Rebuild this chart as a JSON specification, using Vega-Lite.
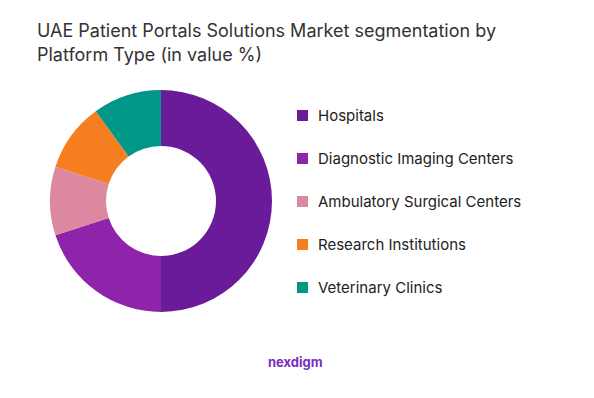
{
  "$schema": "https://vega.github.io/schema/vega-lite/v6.json",
  "background": "white",
  "padding": {"left": 37, "top": 23, "right": 0, "bottom": 0},
  "title": {
    "text": ["UAE Patient Portals Solutions Market segmentation by", "Platform Type (in value %)"],
    "anchor": "start",
    "font": "Inter",
    "fontSize": 18,
    "fontWeight": "normal",
    "color": "#333333",
    "lineHeight": 24,
    "offset": 25
  },
  "vconcat": [
    {
      "width": 248,
      "height": 222,
      "title": {
        "text": "nexdigm",
        "orient": "bottom",
        "anchor": "start",
        "dx": 231,
        "offset": 45,
        "font": "Inter",
        "fontSize": 13,
        "fontWeight": "bold",
        "color": "#7B2CBF"
      },
      "data": {
        "values": [
          {"segment": "Hospitals", "share": 50, "rank": 1},
          {"segment": "Diagnostic Imaging Centers", "share": 20, "rank": 2},
          {"segment": "Ambulatory Surgical Centers", "share": 10, "rank": 3},
          {"segment": "Research Institutions", "share": 10, "rank": 4},
          {"segment": "Veterinary Clinics", "share": 10, "rank": 5}
        ]
      },
      "mark": {"type": "arc", "radius": 111, "radius2": 55},
      "encoding": {
        "theta": {"field": "share", "type": "quantitative", "stack": true},
        "order": {"field": "rank", "type": "quantitative"},
        "color": {
          "field": "segment",
          "type": "nominal",
          "sort": null,
          "scale": {
            "domain": ["Hospitals", "Diagnostic Imaging Centers", "Ambulatory Surgical Centers", "Research Institutions", "Veterinary Clinics"],
            "range": ["#6A1B9A", "#8E24AA", "#DB88A0", "#F57F20", "#009688"]
          },
          "legend": {
            "title": null,
            "orient": "none",
            "legendX": 258,
            "legendY": 18,
            "symbolType": "square",
            "symbolSize": 121,
            "symbolStrokeWidth": 0,
            "labelFont": "Inter",
            "labelFontSize": 15,
            "labelColor": "#222222",
            "labelOffset": 8,
            "labelLimit": 300,
            "rowPadding": 27
          }
        }
      }
    }
  ],
  "config": {"view": {"stroke": null}, "concat": {"spacing": 0}}
}
